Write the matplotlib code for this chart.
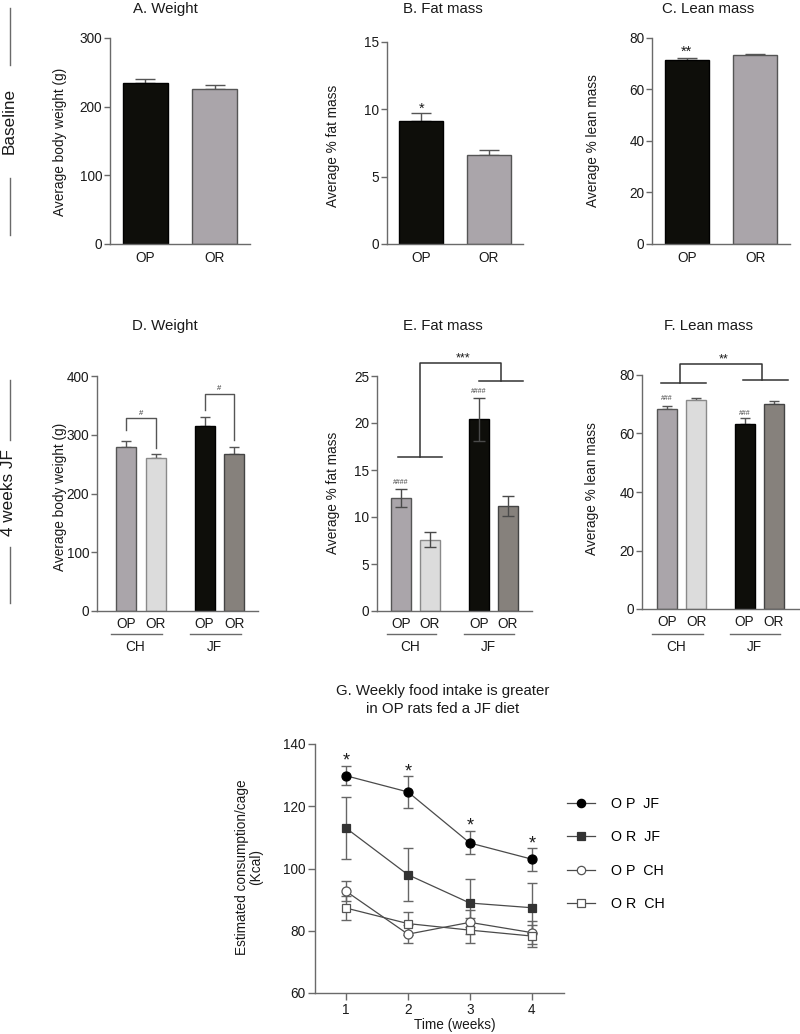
import matplotlib
matplotlib.use("Agg")
import matplotlib.pyplot as plt
from matplotlib.lines import Line2D
import numpy as np

plt.rcParams['font.family'] = ['Liberation Sans', 'DejaVu Sans']

# ---------------- data ----------------
groups_base = ["OP", "OR"]
weight_base = [234.5, 226.0]
weight_base_err = [5.5, 5.0]
fat_base = [9.1, 6.6]
fat_base_err = [0.6, 0.4]
lean_base = [71.6, 73.5]
lean_base_err = [0.6, 0.3]

groups_4wk = ["OP", "OR", "OP", "OR"]
diets = ["CH", "JF"]
weight_4wk = [279.0, 260.0, 315.0, 268.0]
weight_4wk_err = [10.0, 7.0, 16.0, 12.0]
fat_4wk = [12.05, 7.6, 20.4, 11.2]
fat_4wk_err = [0.95, 0.8, 2.3, 1.05]
lean_4wk = [68.4, 71.5, 63.1, 70.1]
lean_4wk_err = [1.0, 0.8, 2.1, 1.0]

weeks = [1, 2, 3, 4]
op_jf = [129.8, 124.6, 108.2, 103.0]
op_jf_sem = [3.0, 5.2, 3.7, 3.7]
or_jf = [113.0, 98.0, 88.9, 87.4]
or_jf_sem = [10.1, 8.6, 7.6, 8.0]
op_ch = [92.7, 78.9, 82.7, 79.4]
op_ch_sem = [3.2, 2.9, 3.9, 3.6]
or_ch = [87.3, 82.3, 80.2, 78.3]
or_ch_sem = [3.9, 3.8, 4.0, 3.6]
series_labels = ["O P  JF", "O R  JF", "O P  CH", "O R  CH"]

# ---------------- styling ----------------
W, H = 800, 1034
fig = plt.figure(figsize=(W / 100, H / 100), dpi=100)

C_BLACK = "#0e0e0a"
C_GRAY = "#aaa5aa"
C_LIGHT = "#dcdcdc"
C_DARK = "#86817c"
SPINE = "#6a6a6a"
TXT = "#1a1a1a"
FS = 9.8


def add_ax(left, top, right, bottom):
    ax = fig.add_axes([left / W, 1 - bottom / H, (right - left) / W, (bottom - top) / H])
    ax._px = (left, top, right, bottom)
    for s in ["top", "right"]:
        ax.spines[s].set_visible(False)
    for s in ["left", "bottom"]:
        ax.spines[s].set_color(SPINE)
        ax.spines[s].set_linewidth(1.0)
    ax.tick_params(axis="y", colors=SPINE, labelcolor=TXT, labelsize=FS, length=4, width=1.0, pad=1.5)
    ax.tick_params(axis="x", length=0, labelcolor=TXT, labelsize=FS, pad=5)
    return ax


def ftext(x, y, s, **kw):
    fig.text(x / W, 1 - y / H, s, **kw)


def yfrac(ax, ypx):
    left, top, right, bottom = ax._px
    return (bottom - ypx) / (bottom - top)


# row labels
ftext(9, 121, "Baseline", rotation=90, ha="center", va="center", fontsize=12.3, color=TXT)
fig.add_artist(Line2D([10 / W, 10 / W], [1 - 8 / H, 1 - 65 / H], color=SPINE, lw=1))
fig.add_artist(Line2D([10 / W, 10 / W], [1 - 178 / H, 1 - 235 / H], color=SPINE, lw=1))
ftext(9, 493, "4 weeks JF", rotation=90, ha="center", va="center", fontsize=12.3, color=TXT)
fig.add_artist(Line2D([10 / W, 10 / W], [1 - 380 / H, 1 - 440 / H], color=SPINE, lw=1))
fig.add_artist(Line2D([10 / W, 10 / W], [1 - 547 / H, 1 - 603 / H], color=SPINE, lw=1))


def base_panel(px, vals, errs, ylim, yticks, title, tx, ylabel, ylx, yly, capsize):
    ax = add_ax(*px)
    x = np.arange(len(vals))
    ax.bar(x, vals, width=0.65, color=[C_BLACK, C_GRAY], edgecolor=["#000000", "#555555"], linewidth=1.0, zorder=2)
    ax.errorbar(x, vals, yerr=[[0, 0], errs], fmt="none", ecolor="#555555", elinewidth=1.0,
                capsize=capsize, capthick=1.0, zorder=1)
    ax.set_xlim(-0.51, 1.51)
    ax.set_ylim(*ylim)
    ax.set_yticks(yticks)
    ax.set_xticks(x)
    ax.set_xticklabels(groups_base)
    ftext(tx, 9, title, ha="center", va="center", fontsize=10.8, color=TXT)
    ftext(ylx, yly, ylabel, rotation=90, ha="center", va="center", fontsize=FS, color=TXT)
    return ax


axA = base_panel((110, 38, 250, 244), weight_base, weight_base_err, (0, 300), [0, 100, 200, 300],
                 "A. Weight", 165, "Average body weight (g)", 60, 142, 7)
axB = base_panel((387, 42, 523, 244), fat_base, fat_base_err, (0, 15), [0, 5, 10, 15],
                 "B. Fat mass", 443, "Average % fat mass", 333, 146, 7)
axB.text(0, 10.05, "*", ha="center", va="center", fontsize=10.5, color=TXT)
axC = base_panel((652, 38, 790, 244), lean_base, lean_base_err, (0, 80), [0, 20, 40, 60, 80],
                 "C. Lean mass", 708, "Average % lean mass", 593, 141, 7)
axC.text(0, 74.6, "**", ha="center", va="center", fontsize=10.5, color=TXT)


def wk_panel(px, vals, errs, ylim, yticks, title, tx, ylabel, ylx, yly, pos, xlim, both):
    ax = add_ax(*px)
    cols = [C_GRAY, C_LIGHT, C_BLACK, C_DARK]
    edges = ["#555555", "#8a8a8a", "#000000", "#444444"]
    ax.bar(pos, vals, width=0.68, color=cols, edgecolor=edges, linewidth=1.0, zorder=2)
    if both:
        ax.errorbar(pos, vals, yerr=errs, fmt="none", ecolor="#4a4a4a", elinewidth=1.0,
                    capsize=4, capthick=1.0, zorder=3)
    else:
        ax.errorbar(pos, vals, yerr=[[0] * 4, errs], fmt="none", ecolor="#555555", elinewidth=1.0,
                    capsize=3.6, capthick=1.0, zorder=1)
    ax.set_xlim(*xlim)
    ax.set_ylim(*ylim)
    ax.set_yticks(yticks)
    ax.set_xticks(pos)
    ax.set_xticklabels(groups_4wk)
    ax.tick_params(axis="x", pad=4)
    trans = ax.get_xaxis_transform()
    yu = yfrac(ax, 634)
    yt = yfrac(ax, 647)
    for i, d in enumerate(diets):
        a, b = pos[2 * i], pos[2 * i + 1]
        ax.plot([a - 0.5, b + 0.22], [yu, yu], color=SPINE, lw=1.0, transform=trans, clip_on=False)
        ax.text((a + b) / 2 - 0.18, yt, d, ha="center", va="center", fontsize=FS, color=TXT, transform=trans)
    ftext(tx, 326, title, ha="center", va="center", fontsize=10.8, color=TXT)
    ftext(ylx, yly, ylabel, rotation=90, ha="center", va="center", fontsize=FS, color=TXT)
    return ax


BR = "#555555"
posD = [0, 1, 2.65, 3.65]
axD = wk_panel((97, 376, 258, 611), weight_4wk, weight_4wk_err, (0, 400), [0, 100, 200, 300, 400],
               "D. Weight", 165, "Average body weight (g)", 60, 497, posD, (-0.98, 4.45), False)
axD.plot([0, 0, 1, 1], [308, 328, 328, 277], color=BR, lw=1.0, clip_on=False)
axD.text(0.5, 337, "#", ha="center", va="center", fontsize=5.5, color="#333333")
axD.plot([2.65, 2.65, 3.65, 3.65], [342, 369, 369, 291], color=BR, lw=1.0, clip_on=False)
axD.text(3.15, 378, "#", ha="center", va="center", fontsize=5.5, color="#333333")

posE = [0, 1, 2.69, 3.69]
axE = wk_panel((377, 376, 532, 611), fat_4wk, fat_4wk_err, (0, 25), [0, 5, 10, 15, 20, 25],
               "E. Fat mass", 443, "Average % fat mass", 333, 493, posE, (-0.83, 4.52), True)
axE.plot([-0.1, 1.41], [16.4, 16.4], color="#333333", lw=1.1, clip_on=False)
axE.plot([0.66, 0.66, 3.45, 3.45], [16.4, 26.4, 26.4, 24.5], color="#333333", lw=1.1, clip_on=False)
axE.plot([2.69, 4.21], [24.5, 24.5], color="#333333", lw=1.1, clip_on=False)
axE.text(2.14, 26.9, "***", ha="center", va="center", fontsize=9, color=TXT)
axE.text(0, 13.7, "####", ha="center", va="center", fontsize=5, color="#444444")
axE.text(2.69, 23.4, "####", ha="center", va="center", fontsize=5, color="#444444")

posF = [0, 1, 2.64, 3.64]
axF = wk_panel((642, 375, 799, 609), lean_4wk, lean_4wk_err, (0, 80), [0, 20, 40, 60, 80],
               "F. Lean mass", 708, "Average % lean mass", 592, 489, posF, (-0.85, 4.49), False)
axF.plot([-0.2, 1.32], [77.4, 77.4], color="#333333", lw=1.1, clip_on=False)
axF.plot([0.44, 0.44, 3.22, 3.22], [77.4, 83.7, 83.7, 78.3], color="#333333", lw=1.1, clip_on=False)
axF.plot([2.58, 4.1], [78.3, 78.3], color="#333333", lw=1.1, clip_on=False)
axF.text(1.93, 85.2, "**", ha="center", va="center", fontsize=9, color=TXT)
axF.text(0, 71.8, "###", ha="center", va="center", fontsize=5, color="#444444")
axF.text(2.64, 67.0, "###", ha="center", va="center", fontsize=5, color="#444444")

# ---------------- panel G ----------------
axG = add_ax(315, 744, 564, 993)
axG.tick_params(axis="x", length=5, width=1.0, colors=SPINE, labelcolor=TXT, pad=2)
axG.tick_params(axis="y", length=5, pad=2)
LC = "#4a4a4a"
specs = [
    (op_jf, op_jf_sem, "o", "#000000", "#000000", 6.5),
    (or_jf, or_jf_sem, "s", "#333333", "#333333", 6.0),
    (op_ch, op_ch_sem, "o", "white", "#555555", 6.5),
    (or_ch, or_ch_sem, "s", "white", "#555555", 6.0),
]
handles = []
for (vals, sem, mk, fc, ec, ms), lab in zip(specs, series_labels):
    axG.errorbar(weeks, vals, yerr=sem, fmt="none", ecolor="#666666", elinewidth=1.0, capsize=3.5,
                 capthick=1.0, zorder=2)
    axG.plot(weeks, vals, color=LC, lw=0.9, zorder=3)
    axG.plot(weeks, vals, linestyle="none", marker=mk, markersize=ms, markerfacecolor=fc,
             markeredgecolor=ec, markeredgewidth=0.9, zorder=4)
    handles.append(Line2D([], [], color=LC, lw=0.9, marker=mk, markersize=ms - 0.5, markerfacecolor=fc,
                          markeredgecolor=ec, markeredgewidth=0.9, label=lab))
axG.set_xlim(0.5, 4.52)
axG.set_ylim(60, 140)
axG.set_xticks(weeks)
axG.set_yticks([60, 80, 100, 120, 140])
for w, y in zip(weeks, [134.4, 131.0, 113.5, 107.9]):
    axG.text(w, y, "*", ha="center", va="center", fontsize=13, color=TXT)
ftext(443, 691, "G. Weekly food intake is greater", ha="center", va="center", fontsize=10.8, color=TXT)
ftext(443, 709, "in OP rats fed a JF diet", ha="center", va="center", fontsize=10.8, color=TXT)
ftext(242, 867, "Estimated consumption/cage", rotation=90, ha="center", va="center", fontsize=FS, color=TXT)
ftext(256, 867, "(Kcal)", rotation=90, ha="center", va="center", fontsize=FS, color=TXT)
ftext(455, 1025, "Time (weeks)", ha="center", va="center", fontsize=FS, color=TXT)

fig.legend(handles=handles, loc="upper left", bbox_to_anchor=(567 / W, 1 - 797 / H), frameon=False,
           fontsize=10.3, handlelength=1.95, handletextpad=1.1, labelspacing=1.35, borderpad=0,
           borderaxespad=0)

fig.savefig("out.png", dpi=100)
